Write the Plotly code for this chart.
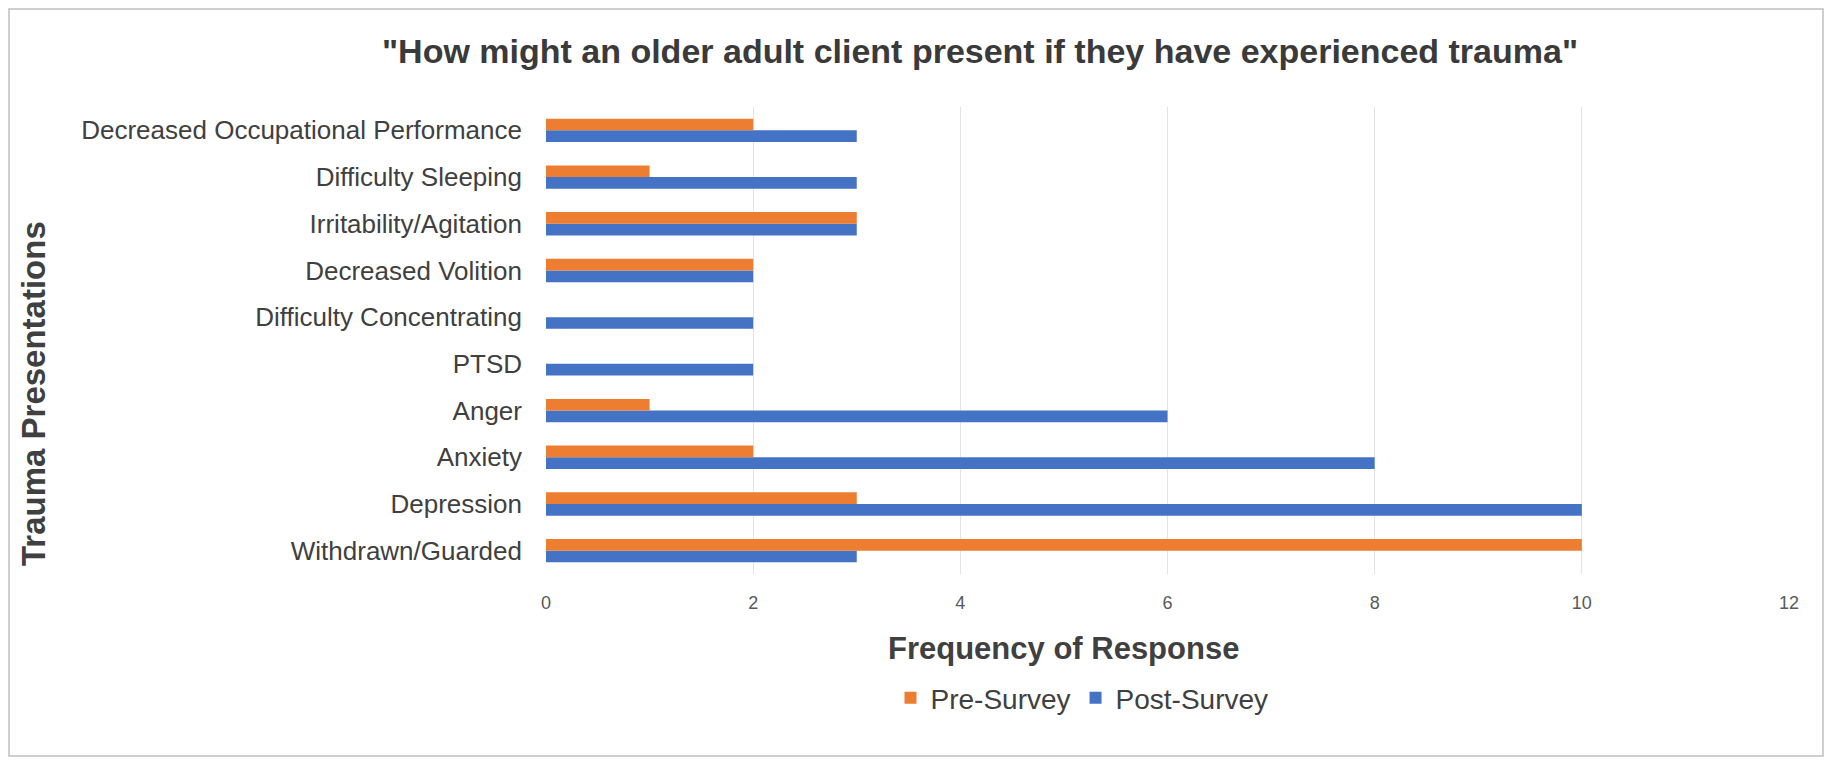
import plotly.graph_objects as go

categories = ["Withdrawn/Guarded", "Depression", "Anxiety", "Anger", "PTSD",
              "Difficulty Concentrating", "Decreased Volition", "Irritability/Agitation",
              "Difficulty Sleeping", "Decreased Occupational Performance"]
pre_survey = [10, 3, 2, 1, 0, 0, 2, 3, 1, 2]
post_survey = [3, 10, 8, 6, 2, 2, 2, 3, 3, 3]
x_ticks = [0, 2, 4, 6, 8, 10, 12]

W, H = 1832, 762
OFF = 8  # page body margin shifts the figure by 8 px
L, R, T, B = 546 - OFF, 43 + OFF, 107 - OFF, 188 + OFF
PW, PH = W - L - R, H - T - B

def px(x):
    return (x - OFF - L) / PW

def py(y):
    return (H - B - (y - OFF)) / PH

FONT = "Liberation Sans, Arial, sans-serif"

fig = go.Figure()
fig.add_trace(go.Bar(y=categories, x=post_survey, name="Post-Survey", orientation="h",
                     marker=dict(color="#4472C4", line=dict(width=0))))
fig.add_trace(go.Bar(y=categories, x=pre_survey, name="Pre-Survey", orientation="h",
                     marker=dict(color="#ED7D31", line=dict(width=0))))

fig.update_layout(
    width=W, height=H,
    margin=dict(l=L, r=R, t=T, b=B),
    paper_bgcolor="white", plot_bgcolor="white",
    barmode="group", bargap=0.5, bargroupgap=0,
    font=dict(family=FONT, color="#404040"),
    title=dict(text='"How might an older adult client present if they have experienced trauma"',
               x=(980 - OFF) / W, xanchor="center", xref="container",
               y=1 - (51 - OFF) / H, yanchor="middle",
               font=dict(size=34, color="#3a3a3a", family=FONT, weight="bold")),
    xaxis=dict(range=[0, 12], tickvals=x_ticks, showgrid=True, gridcolor="#e3e3e3", gridwidth=1,
               zeroline=False, showline=False, ticks="", ticklabelstandoff=16,
               tickfont=dict(size=18, color="#595959")),
    yaxis=dict(showgrid=False, zeroline=False, showline=False, ticks="", ticklabelstandoff=23,
               tickfont=dict(size=26, color="#404040")),
    legend=dict(orientation="h", x=px(1082), xanchor="center", y=py(698), yanchor="middle",
                traceorder="reversed", font=dict(size=28, color="#404040"),
                itemwidth=30, bgcolor="rgba(0,0,0,0)"),
    showlegend=True,
)

fig.add_annotation(text="<b>Frequency of Response</b>", xref="paper", yref="paper",
                   x=px(1063), y=py(648), xanchor="center", yanchor="middle", showarrow=False,
                   font=dict(size=31, color="#404040"))
fig.add_annotation(text="<b>Trauma Presentations</b>", xref="paper", yref="paper",
                   x=px(33), y=py(394), xanchor="center", yanchor="middle", showarrow=False,
                   textangle=-90, font=dict(size=33, color="#404040"))

fig.add_shape(type="rect", xref="paper", yref="paper",
              x0=px(9), x1=px(1823), y0=py(756), y1=py(9),
              line=dict(color="#bfbfbf", width=1.5), fillcolor="rgba(0,0,0,0)", layer="below")

fig.write_html("out.html")
